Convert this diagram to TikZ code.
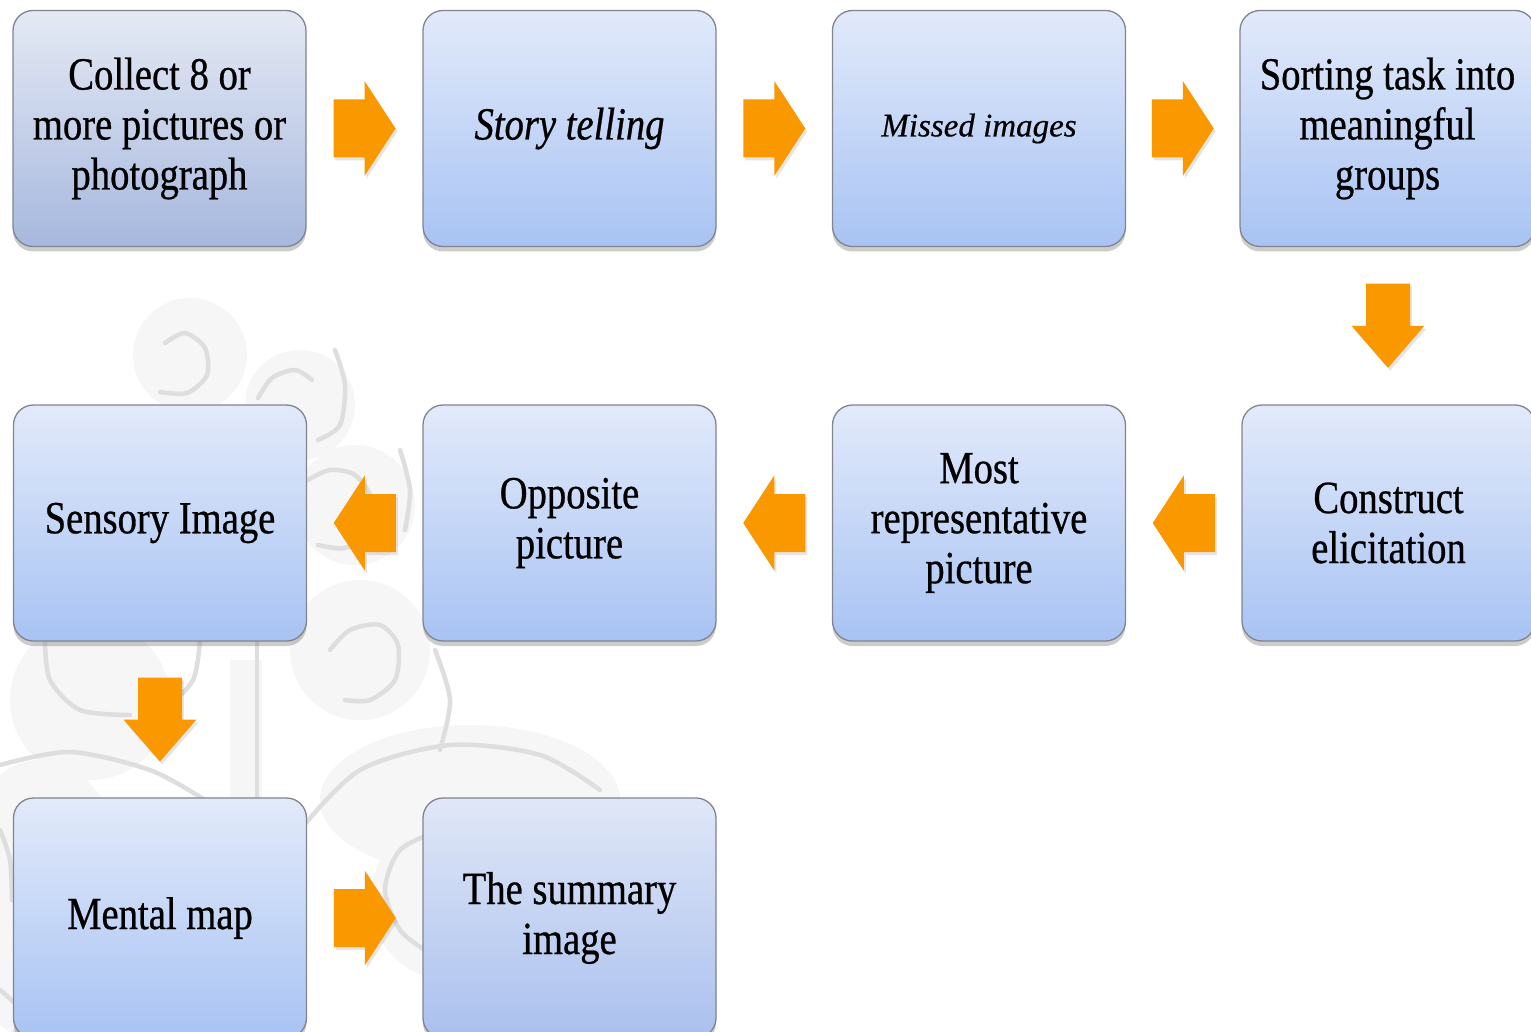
\documentclass[tikz,border=0pt]{standalone}
\usepackage{fontspec}
\setmainfont{Liberation Serif}[FakeStretch=0.84,FakeBold=0.6]
\newfontfamily\plainserif{Liberation Serif}[FakeBold=0.5]
\usetikzlibrary{shadows,calc}
\definecolor{arrowor}{RGB}{250,152,0}
\definecolor{boxtop}{RGB}{226,234,250}
\definecolor{boxbot}{RGB}{168,195,243}
\definecolor{greytop}{RGB}{228,233,244}
\definecolor{greybot}{RGB}{167,184,222}
\definecolor{sumtop}{RGB}{224,231,247}
\definecolor{sumbot}{RGB}{170,192,238}
\definecolor{boxborder}{RGB}{128,133,142}
\definecolor{swirlfill}{RGB}{246,246,246}
\definecolor{swirlline}{RGB}{222,222,222}
\tikzset{
  stepbox/.style={draw=boxborder, line width=1.3pt, rounded corners=20pt,
    minimum width=293pt, minimum height=236pt, top color=boxtop, bottom color=boxbot,
    align=center, inner sep=0pt, font=\fontsize{46}{50}\selectfont,
    drop shadow={shadow xshift=0pt, shadow yshift=-5pt, opacity=0.4}},
  greybox/.style={stepbox, top color=greytop, bottom color=greybot},
  arrowfill/.style={fill=arrowor, drop shadow={shadow xshift=2pt, shadow yshift=-3pt, opacity=0.2}},
  harrow/.pic={\path[arrowfill] (-31,-29) -- (0,-29) -- (0,-47.5) -- (31,0) -- (0,47.5) -- (0,29) -- (-31,29) -- cycle;},
  varrow/.pic={\path[arrowfill] (-42,-22) -- (0,-22) -- (0,-36.5) -- (42,0) -- (0,36.5) -- (0,22) -- (-42,22) -- cycle;},
  swl/.style={draw=swirlline, line width=4.5pt, line cap=round},
}
\begin{document}
\begin{tikzpicture}[x=1pt,y=-1pt]
\useasboundingbox (0,0) rectangle (1531,1032);
\clip (0,0) rectangle (1531,1032);
\fill[white] (0,0) rectangle (1531,1032);

% background decoration
\fill[swirlfill] (190,355) circle (57);
\fill[swirlfill] (300,405) circle (55);
\fill[swirlfill] (355,505) circle (60);
\fill[swirlfill] (360,650) circle (70);
\fill[swirlfill] (90,700) circle (80);
\fill[swirlfill] (470,800) ellipse (150 and 75);
\fill[swirlfill] (450,900) circle (80);
\fill[swirlfill] (40,900) ellipse (90 and 140);
\fill[swirlfill] (230,660) rectangle (262,800);
\draw[swl] plot[smooth] coordinates {(165,343) (185,333) (205,348) (207,375) (187,393) (160,392)};
\draw[swl] plot[smooth] coordinates {(258,398) (272,378) (295,370) (312,380)};
\draw[swl] plot[smooth] coordinates {(335,350) (345,385) (340,425) (318,440)};
\draw[swl] plot[smooth] coordinates {(308,480) (330,470) (355,475) (372,500) (368,532) (345,548) (318,545)};
\draw[swl] plot[smooth] coordinates {(400,450) (410,490) (405,530)};
\draw[swl] plot[smooth] coordinates {(330,650) (350,630) (380,625) (398,645) (395,680) (370,700) (345,700)};
\draw[swl] plot[smooth] coordinates {(435,650) (450,700) (440,750)};
\draw[swl] plot[smooth] coordinates {(45,640) (50,680) (80,710) (130,715)};
\draw[swl] plot[smooth] coordinates {(200,640) (193,680) (165,710)};
\draw[swl] (257,640) -- (257,797);
\draw[swl] plot[smooth] coordinates {(0,765) (70,752) (150,770) (205,800)};
\draw[swl] plot[smooth] coordinates {(300,830) (360,770) (450,745) (540,755) (600,790)};
\draw[swl] plot[smooth] coordinates {(440,830) (400,850) (385,890) (400,930) (425,950)};
\draw[swl] plot[smooth] coordinates {(0,830) (10,860) (12,900)};
\draw[swl] plot[smooth] coordinates {(0,990) (20,1010) (15,1032)};

% row 1
\node[greybox] (b1) at (159.5,128.5) {Collect 8 or\\more pictures or\\photograph};
\node[stepbox] (b2) at (569.5,128.5) {\itshape Story telling};
\node[stepbox] (b3) at (979,128.5) {\plainserif\itshape\fontsize{33}{38}\selectfont Missed images};
\node[stepbox, minimum width=295pt] (b4) at (1387.5,128.5) {Sorting task into\\meaningful\\groups};
% row 2
\node[stepbox] (b5) at (1388.5,523) {Construct\\elicitation};
\node[stepbox] (b6) at (979,523) {Most\\representative\\picture};
\node[stepbox] (b7) at (569.5,523) {Opposite\\picture};
\node[stepbox] (b8) at (160,523) {Sensory Image};
% row 3
\node[stepbox, minimum height=240pt] (b9) at (160,918) {Mental map};
\node[stepbox, minimum height=240pt, top color=sumtop, bottom color=sumbot] (b10) at (569.5,918) {The summary\\image};

% block arrows
\pic at ($(b1.east)!0.5!(b2.west)$) {harrow};
\pic at ($(b2.east)!0.5!(b3.west)$) {harrow};
\pic at ($(b3.east)!0.5!(b4.west)$) {harrow};
\pic[rotate=-90] at ($(b4.south)!0.5!(b5.north)$) {varrow};
\pic[rotate=180] at ($(b5.west)!0.5!(b6.east)$) {harrow};
\pic[rotate=180] at ($(b6.west)!0.5!(b7.east)$) {harrow};
\pic[rotate=180] at ($(b7.west)!0.5!(b8.east)$) {harrow};
\pic[rotate=-90] at ($(b8.south)!0.5!(b9.north)$) {varrow};
\pic at ($(b9.east)!0.5!(b10.west)$) {harrow};
\end{tikzpicture}
\end{document}
